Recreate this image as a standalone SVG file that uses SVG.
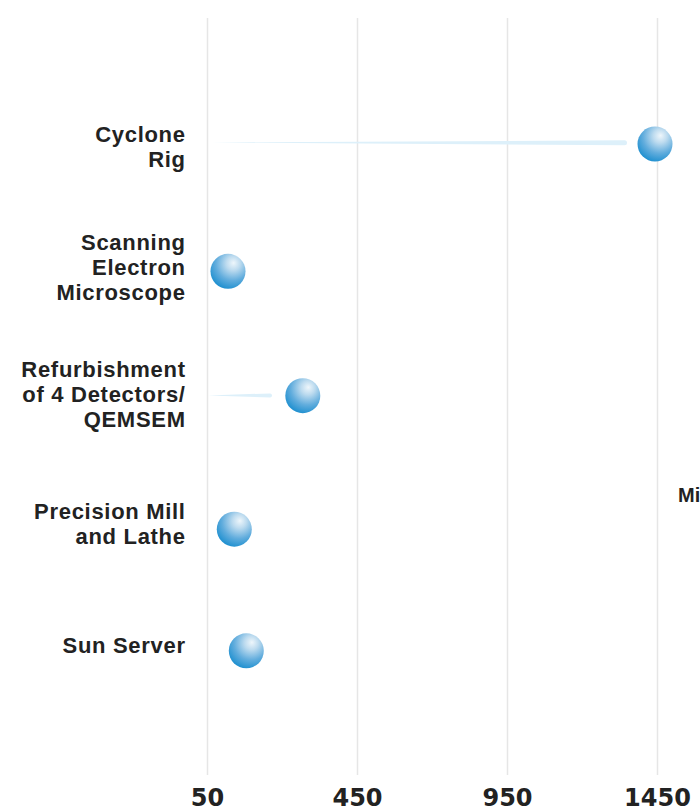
<svg xmlns="http://www.w3.org/2000/svg" width="700" height="811" viewBox="0 0 700 811">
  <style>
    .grid { stroke: #e6e6e6; stroke-width: 1.5; }
    .lbl { font-family: "Liberation Sans", Arial, sans-serif; font-weight: bold; font-size: 22px; letter-spacing: 0.7px; fill: #222222; text-anchor: end; }
    .axis { font-family: "DejaVu Sans", "Liberation Sans", sans-serif; font-weight: bold; font-size: 24px; fill: #222222; text-anchor: middle; }
    .stem { fill: #ddf0fa; }
    .ball { fill: url(#ballGrad); }
  </style>
  <defs>
    <radialGradient id="ballGrad" cx="0.62" cy="0.3" r="0.8" fx="0.66" fy="0.26">
      <stop offset="0" stop-color="#eef6fb"/>
      <stop offset="0.25" stop-color="#bddbef"/>
      <stop offset="0.6" stop-color="#62addd"/>
      <stop offset="1" stop-color="#0d88cc"/>
    </radialGradient>
  </defs>
  <rect width="700" height="811" fill="#ffffff"/>
  <g id="gridlines">
    <line class="grid" x1="207.5" y1="18" x2="207.5" y2="775"/>
    <line class="grid" x1="357.5" y1="18" x2="357.5" y2="775"/>
    <line class="grid" x1="507.5" y1="18" x2="507.5" y2="775"/>
    <line class="grid" x1="657.5" y1="18" x2="657.5" y2="775"/>
  </g>
  <g id="axis-labels">
    <text class="axis" x="207.5" y="806">50</text>
    <text class="axis" x="357.5" y="806">450</text>
    <text class="axis" x="507.5" y="806">950</text>
    <text class="axis" x="657.5" y="806">1450</text>
  </g>
  <g id="connectors">
    <path class="stem" d="M212,142.6 L624.5,140.3 A2.5,2.5 0 0 1 624.5,145.3 Z"/>
    <path class="stem" d="M208,395.4 L270,393.4 A2,2 0 0 1 270,397.4 Z"/>
  </g>
  <g id="node-cyclone">
    <text class="lbl" x="185.7" y="141.5">Cyclone</text>
    <text class="lbl" x="185.7" y="166.5">Rig</text>
    <circle class="ball" cx="655" cy="144" r="17.5"/>
  </g>
  <g id="node-sem">
    <text class="lbl" x="185.7" y="250">Scanning</text>
    <text class="lbl" x="185.7" y="275">Electron</text>
    <text class="lbl" x="185.7" y="300">Microscope</text>
    <circle class="ball" cx="228" cy="271.3" r="17.5"/>
  </g>
  <g id="node-refurb">
    <text class="lbl" x="185.7" y="377">Refurbishment</text>
    <text class="lbl" x="185.7" y="402">of 4 Detectors/</text>
    <text class="lbl" x="185.7" y="427">QEMSEM</text>
    <circle class="ball" cx="302.8" cy="395.7" r="17.5"/>
  </g>
  <g id="node-mill">
    <text class="lbl" x="185.7" y="518.5">Precision Mill</text>
    <text class="lbl" x="185.7" y="543.5">and Lathe</text>
    <circle class="ball" cx="234.3" cy="529.2" r="17.5"/>
  </g>
  <g id="node-sun">
    <text class="lbl" x="185.7" y="652.5">Sun Server</text>
    <circle class="ball" cx="246.3" cy="650.8" r="17.5"/>
  </g>
  <g id="side-label">
    <text class="lbl" x="678" y="502" style="text-anchor:start;letter-spacing:0;font-size:20px">Mi</text>
  </g>
</svg>
